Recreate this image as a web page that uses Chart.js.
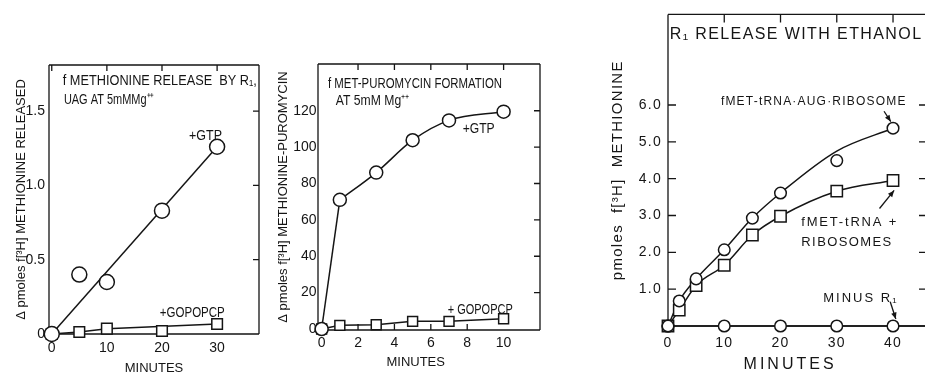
<!DOCTYPE html>
<html lang="en">
<head>
<meta charset="UTF-8">
<title>fMet release and fMet-puromycin formation</title>
<script src="https://cdn.jsdelivr.net/npm/chart.js"></script>
<style>
  body { margin: 0; background: #fff; width: 925px; height: 375px; overflow: hidden; position: relative; }
  canvas { position: absolute; top: 0; }
  #c1 { left: 0; }
  #c2 { left: 260px; }
  #c3 { left: 600px; }
</style>
</head>
<body>
<canvas id="c1" width="300" height="375"></canvas>
<canvas id="c2" width="300" height="375"></canvas>
<canvas id="c3" width="340" height="375"></canvas>
<script>
// ---- panel A: f methionine release by R1 ----
const minA = [0, 5, 10, 20, 30];
const gtpA = [0, 0.40, 0.35, 0.83, 1.26];
const gopA = [0, 0.013, 0.036, 0.02, 0.067];
const gtpFitMinA = [0, 30];          // drawn straight line
const gtpFitA = [0, 1.26];
const gopFitMinA = [0, 5, 10, 30];
const gopFitA = [0, 0.013, 0.036, 0.067];
const xTicksA = [0, 10, 20, 30];
const xLabelsA = ['0', '10', '20', '30'];
const yTicksA = [0, 0.5, 1.0, 1.5];
const yLabelsA = ['0', '0.5', '1.0', '1.5'];

// ---- panel B: f Met-puromycin formation ----
const minB = [0, 1, 3, 5, 7, 10];
const gtpB = [0, 71, 86, 103.8, 114.7, 119.5];
const gopB = [0, 2, 2.3, 4.2, 4.2, 5.6];
const xTicksB = [0, 2, 4, 6, 8, 10];
const xLabelsB = ['0', '2', '4', '6', '8', '10'];
const yTicksB = [0, 20, 40, 60, 80, 100, 120];
const yLabelsB = ['0', '20', '40', '60', '80', '100', '120'];

// ---- panel C: R1 release with ethanol ----
const minC = [0, 2, 5, 10, 15, 20, 30, 40];
const augC = [0, 0.68, 1.28, 2.07, 2.93, 3.61, 4.49, 5.37];
const augCurveC = [0, 0.68, 1.28, 2.07, 2.93, 3.61, 4.75, 5.37]; // hand-drawn curve passes above 30 min point
const ribC = [0, 0.43, 1.1, 1.65, 2.47, 2.98, 3.66, 3.95];
const minusMinC = [0, 10, 20, 30, 40];
const minusC = [0, 0, 0, 0, 0];
const minusLineMinC = [0, 47];
const minusLineC = [0, 0];
const xTicksC = [0, 10, 20, 30, 40];
const xLabelsC = ['0', '10', '20', '30', '40'];
const yTicksC = [1, 2, 3, 4, 5, 6];
const yLabelsC = ['1.0', '2.0', '3.0', '4.0', '5.0', '6.0'];

const INK = '#151515';
const NARROW = "'Liberation Sans Narrow', 'Liberation Sans', sans-serif";
const PLAIN = "'Liberation Sans', 'DejaVu Sans', sans-serif";

const zip = (xs, ys) => xs.map((x, i) => ({ x: x, y: ys[i] }));

function marks(xs, ys, style, r) {
  return {
    data: zip(xs, ys), showLine: false, order: 1, clip: false,
    pointStyle: style, pointRadius: r, pointHoverRadius: r,
    pointBackgroundColor: '#fff', pointBorderColor: INK, pointBorderWidth: 1.5
  };
}
function curve(xs, ys, smooth) {
  return {
    data: zip(xs, ys), showLine: true, order: 2, clip: false,
    pointRadius: 0, borderColor: INK, borderWidth: 1.5,
    cubicInterpolationMode: smooth ? 'monotone' : 'default', tension: 0
  };
}

// frame, inward ticks, notes and arrows
const paperPlugin = {
  id: 'paper',
  beforeDraw(chart, args, o) {
    chart.ctx.letterSpacing = o.spacing || '0px';
  },
  beforeDatasetsDraw(chart, args, o) {
    const { ctx, chartArea: a, scales: { x, y } } = chart;
    ctx.save();
    ctx.strokeStyle = INK;
    ctx.lineWidth = 1.3;
    ctx.beginPath();
    ctx.moveTo(a.left, a.top); ctx.lineTo(a.right, a.top);
    ctx.moveTo(a.left, a.top); ctx.lineTo(a.left, a.bottom);
    ctx.moveTo(a.left, a.bottom); ctx.lineTo(a.right, a.bottom);
    ctx.moveTo(a.right, a.top); ctx.lineTo(a.right, a.bottom);
    const L = o.tick || 6;
    (o.top || []).forEach(v => { const p = x.getPixelForValue(v); ctx.moveTo(p, a.top); ctx.lineTo(p, a.top + L); });
    (o.bottom || []).forEach(v => { const p = x.getPixelForValue(v); ctx.moveTo(p, a.bottom); ctx.lineTo(p, a.bottom - L); });
    (o.right || []).forEach(v => { const p = y.getPixelForValue(v); ctx.moveTo(a.right, p); ctx.lineTo(a.right - L, p); });
    (o.left || []).forEach(v => { const p = y.getPixelForValue(v); ctx.moveTo(a.left, p); ctx.lineTo(a.left + L, p); });
    ctx.stroke();
    ctx.restore();
  },
  afterDraw(chart, args, o) {
    const { ctx, scales: { x, y } } = chart;
    ctx.save();
    ctx.fillStyle = INK;
    ctx.textBaseline = 'middle';
    (o.notes || []).forEach(n => {
      ctx.save();
      ctx.font = n.font;
      ctx.textAlign = n.align || 'left';
      ctx.letterSpacing = n.spacing || '0px';
      ctx.translate(x.getPixelForValue(n.x), y.getPixelForValue(n.y));
      if (n.w) ctx.scale(n.w / ctx.measureText(n.text).width, 1);
      ctx.fillText(n.text, 0, 0);
      ctx.restore();
    });
    ctx.strokeStyle = INK;
    ctx.lineWidth = 1.3;
    (o.arrows || []).forEach(ar => {
      const x1 = x.getPixelForValue(ar[0]), y1 = y.getPixelForValue(ar[1]);
      const x2 = x.getPixelForValue(ar[2]), y2 = y.getPixelForValue(ar[3]);
      const ang = Math.atan2(y2 - y1, x2 - x1);
      ctx.beginPath(); ctx.moveTo(x1, y1); ctx.lineTo(x2, y2); ctx.stroke();
      ctx.beginPath();
      ctx.moveTo(x2, y2);
      ctx.lineTo(x2 - 7 * Math.cos(ang - 0.4), y2 - 7 * Math.sin(ang - 0.4));
      ctx.lineTo(x2 - 7 * Math.cos(ang + 0.4), y2 - 7 * Math.sin(ang + 0.4));
      ctx.closePath(); ctx.fill();
    });
    ctx.restore();
  }
};

function axis(opt) {
  const s = {
    type: 'linear', min: opt.min, max: opt.max, position: opt.pos,
    grid: { display: false, drawTicks: false },
    border: { display: false },
    afterBuildTicks: sc => { sc.ticks = opt.ticks.map(v => ({ value: v })); },
    ticks: {
      autoSkip: false, maxRotation: 0, padding: opt.pad, color: INK,
      font: { family: opt.family, size: opt.size },
      callback: v => opt.labels[opt.ticks.indexOf(v)]
    },
    title: {
      display: !!opt.title, text: opt.title, color: INK,
      font: { family: opt.family, size: opt.tsize, lineHeight: opt.tlh || 1.2 },
      padding: opt.tpad
    }
  };
  if (opt.pos === 'left') s.afterFit = sc => { sc.width = opt.fit; };
  else s.afterFit = sc => { sc.height = opt.fit; };
  return s;
}

function makeChart(id, datasets, scales, pad, paper) {
  return new Chart(document.getElementById(id), {
    type: 'scatter',
    data: { datasets: datasets },
    options: {
      responsive: false, animation: false,
      layout: { padding: pad },
      plugins: { legend: { display: false }, tooltip: { enabled: false }, paper: paper },
      scales: scales
    },
    plugins: [paperPlugin]
  });
}

// panel A
makeChart('c1', [
  curve(gtpFitMinA, gtpFitA, false),
  curve(gopFitMinA, gopFitA, false),
  marks(minA, gtpA, 'circle', 7.5),
  marks(minA, gopA, 'rect', 7.5)
], {
  x: axis({ pos: 'bottom', min: -0.5, max: 37.6, ticks: xTicksA, labels: xLabelsA, pad: 6, family: NARROW, size: 14,
            title: 'MINUTES', tsize: 13, tlh: 1, tpad: { top: 0, bottom: 0.5 }, fit: 41 }),
  y: axis({ pos: 'left', min: 0, max: 1.81, ticks: yTicksA, labels: yLabelsA, pad: 4, family: NARROW, size: 14,
            title: 'Δ pmoles f[³H] METHIONINE RELEASED', tsize: 13, tpad: { top: 14, bottom: 0 }, fit: 49 })
}, { top: 65, right: 41, left: 0, bottom: 0 }, {
  top: xTicksA, right: [0.5, 1.0, 1.5],
  notes: [
    { x: 2.0, y: 1.70, text: 'f METHIONINE RELEASE  BY R₁,', font: '15px ' + NARROW, w: 194 },
    { x: 2.2, y: 1.575, text: 'UAG AT 5mMMg⁺⁺', font: '15px ' + NARROW, w: 90 },
    { x: 24.9, y: 1.33, text: '+GTP', font: '15px ' + NARROW, w: 33 },
    { x: 19.6, y: 0.143, text: '+GOPOPCP', font: '15px ' + NARROW, w: 65 }
  ]
});

// panel B
makeChart('c2', [
  curve(minB.slice(0, 2), gtpB.slice(0, 2), false),
  curve(minB.slice(1), gtpB.slice(1), true),
  curve(minB, gopB, false),
  marks(minB, gtpB, 'circle', 6.5),
  marks(minB, gopB, 'rect', 7)
], {
  x: axis({ pos: 'bottom', min: -0.2, max: 12, ticks: xTicksB, labels: xLabelsB, pad: 5, family: NARROW, size: 14, fit: 45 }),
  y: axis({ pos: 'left', min: -0.55, max: 145.7, ticks: yTicksB, labels: yLabelsB, pad: 1.5, family: NARROW, size: 14,
            title: 'Δ pmoles f[³H] METHIONINE-PUROMYCIN', tsize: 13, tpad: { top: 16, bottom: 0 }, fit: 58 })
}, { top: 64, right: 20, left: 0, bottom: 0 }, {
  top: [2, 4, 6, 8, 10], bottom: [2, 4, 6, 8], right: [20, 40, 60, 80, 100, 120],
  notes: [
    { x: 0.35, y: 134.8, text: 'f MET-PUROMYCIN FORMATION', font: '14px ' + NARROW, w: 174 },
    { x: 0.78, y: 125.5, text: 'AT 5mM Mg⁺⁺', font: '14px ' + NARROW, w: 74 },
    { x: 7.75, y: 110, text: '+GTP', font: '15px ' + NARROW, w: 32 },
    { x: 6.93, y: 10.5, text: '+ GOPOPCP', font: '15px ' + NARROW, w: 65 },
    { x: 5.17, y: -18.5, text: 'MINUTES', font: '13px ' + NARROW, align: 'center' }
  ]
});

// panel C
makeChart('c3', [
  curve(minC, augCurveC, true),
  curve(minC, ribC, true),
  curve(minusLineMinC, minusLineC, false),
  marks(minC, augC, 'circle', 5.8),
  marks(minC, ribC, 'rect', 8),
  marks(minusMinC, minusC, 'circle', 5.8)
], {
  x: axis({ pos: 'bottom', min: 0, max: 46.04, ticks: xTicksC, labels: xLabelsC, pad: 8.5, family: PLAIN, size: 14, fit: 49 }),
  y: axis({ pos: 'left', min: 0, max: 8.46, ticks: yTicksC, labels: yLabelsC, pad: 6, family: PLAIN, size: 14,
            title: 'pmoles  f[³H]  METHIONINE', tsize: 15, tpad: { top: 9, bottom: 0 }, fit: 68 })
}, { top: 12, right: 13, left: 0, bottom: 0 }, {
  spacing: '1.3px', tick: 8,
  top: [10, 20, 30, 40], right: yTicksC, left: yTicksC,
  notes: [
    { x: 0.3, y: 7.91, text: 'R₁ RELEASE WITH ETHANOL', font: '16px ' + PLAIN, spacing: '1.4px' },
    { x: 9.4, y: 6.1, text: 'fMET-tRNA·AUG·RIBOSOME', font: '12px ' + PLAIN, spacing: '1.2px' },
    { x: 23.7, y: 2.8, text: 'fMET-tRNA +', font: '13px ' + PLAIN, spacing: '1.8px' },
    { x: 23.7, y: 2.28, text: 'RIBOSOMES', font: '13px ' + PLAIN, spacing: '1.4px' },
    { x: 27.6, y: 0.76, text: 'MINUS R₁', font: '13px ' + PLAIN, spacing: '2px' },
    { x: 21.7, y: -1.04, text: 'MINUTES', font: '16px ' + PLAIN, spacing: '3px', align: 'center' }
  ],
  arrows: [
    [38.4, 5.83, 39.6, 5.55],
    [37.6, 3.19, 40.2, 3.68],
    [39.5, 0.66, 40.5, 0.19]
  ]
});
</script>
</body>
</html>
